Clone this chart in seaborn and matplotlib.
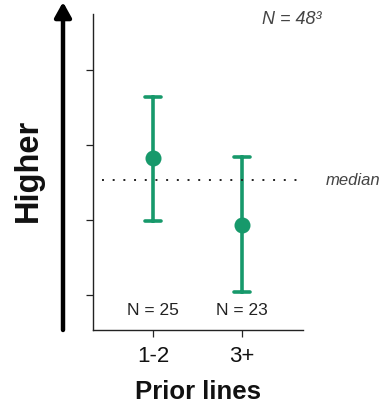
import numpy as np
import pandas as pd
import matplotlib
matplotlib.use("Agg")
import matplotlib.pyplot as plt
import seaborn as sns

#%%
# data (y has no printed scale, ticks at 1..4)
groups = ["1-2", "3+"]
estimates = [2.83, 1.93]
lower = [1.99, 1.04]
upper = [3.64, 2.84]
group_n = [25, 23]
median_value = 2.53
y_ticks = [1, 2, 3, 4]

# long table: lo / estimate / hi per group -> median gives the point,
# 100% percentile interval gives the whisker
rows = []
for g, lo, est, hi in zip(groups, lower, estimates, upper):
    for v in (lo, est, hi):
        rows.append({"group": g, "value": v})
df = pd.DataFrame(rows)

#%%
sns.set_style("white")
plt.rcParams["font.family"] = ["Liberation Sans", "DejaVu Sans"]

green = "#17996b"

fig = plt.figure(figsize=(3.85, 4.06), dpi=100)
ax = fig.add_axes([93 / 385, 75 / 406, 210 / 385, 316 / 406])

sns.pointplot(data=df, x="group", y="value", order=groups,
              estimator="median", errorbar=("pi", 100),
              color=green, linestyle="none", markersize=9.5,
              capsize=0.19, err_kws={"linewidth": 2.6}, ax=ax)

ax.axhline(median_value, xmin=0.043, xmax=0.995, color="#222222",
           linestyle=(0, (1, 4.5)), linewidth=1.4)

ax.set_xlim(-0.674, 1.685)
ax.set_ylim(0.533, 4.75)
ax.set_yticks(y_ticks)
ax.set_yticklabels([])
ax.tick_params(axis="y", direction="out", length=5, width=0.9, left=True, colors="#222222")
ax.tick_params(axis="x", direction="out", length=5, width=0.9, bottom=True,
               labelsize=16, pad=6, labelcolor="#111111")
for s in ["top", "right"]:
    ax.spines[s].set_visible(False)
for s in ["left", "bottom"]:
    ax.spines[s].set_color("#222222")
    ax.spines[s].set_linewidth(1.0)

ax.set_xlabel("Prior lines", fontsize=18.5, fontweight="bold", labelpad=9, color="#111111")
ax.set_ylabel("")

for i, n in enumerate(group_n):
    ax.text(i, 0.8, f"N = {n}", ha="center", va="center", fontsize=12.5, color="#222222")

ax.text(321 / 385, 1 - 20 / 406, "N = 48³", transform=fig.transFigure,
        ha="right", va="center", fontsize=13, style="italic", color="#444444")
ax.text(326 / 385, 1 - 181 / 406, "median", transform=fig.transFigure,
        ha="left", va="center", fontsize=12, style="italic", color="#444444")

# big "Higher" arrow on the left
fig.patches.append(matplotlib.patches.FancyArrowPatch(
    (63, 406 - 331), (63, 406 - 3), transform=None,
    arrowstyle="-|>,head_length=9,head_width=5", mutation_scale=1,
    linewidth=3.2, color="black", shrinkA=0, shrinkB=0))
fig.text(28 / 385, 1 - 170 / 406, "Higher", rotation=90, ha="center", va="center",
         fontsize=23.5, fontweight="bold", color="#111111")

fig.savefig("out.png", dpi=100)
